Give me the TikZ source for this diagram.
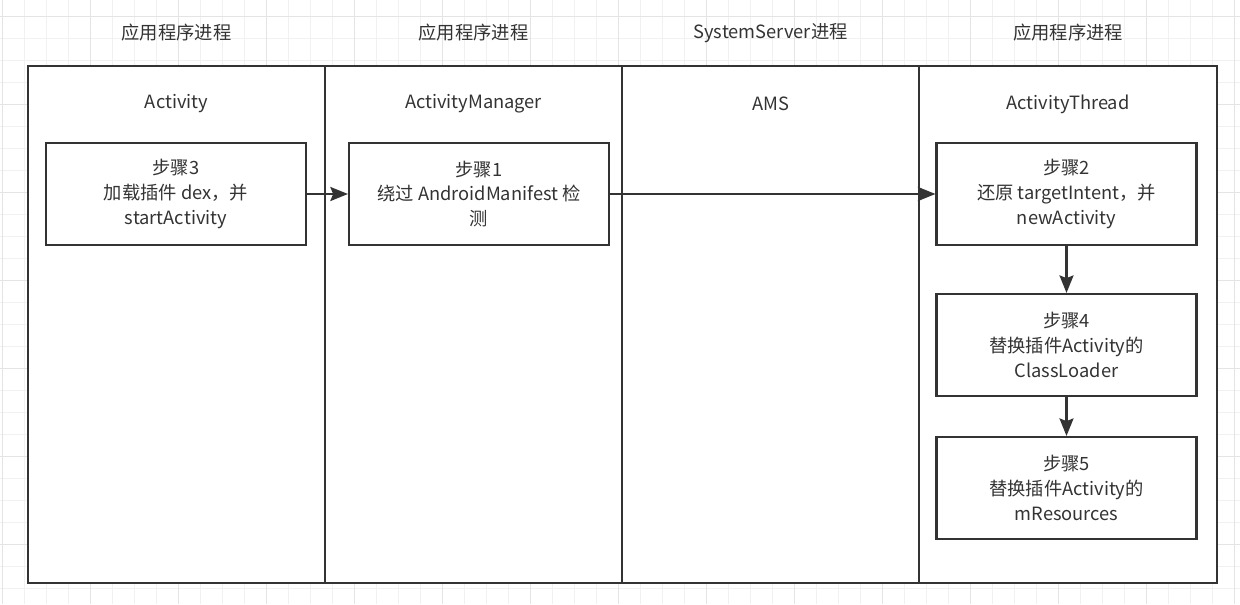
\documentclass[tikz,border=0pt]{standalone}
\usepackage{fontspec}
\setmainfont{Noto Sans CJK SC}
\usetikzlibrary{arrows.meta}
\definecolor{ink}{HTML}{333333}
\definecolor{gridminor}{HTML}{F1F1F1}
\definecolor{gridmajor}{HTML}{E4E4E4}
\tikzset{
  lane/.style={draw=ink, line width=1.5pt},
  stepbox/.style={draw=ink, line width=1.5pt, fill=white, align=center,
    minimum width=6.5cm, minimum height=2.55cm, inner sep=2pt},
  flow/.style={draw=ink, line width=1.5pt, -{Stealth[length=12.5pt, width=10pt, inset=2pt]}},
}
\begin{document}
\begin{tikzpicture}[x=0.025cm, y=-0.025cm, every node/.style={font=\fontsize{13}{17.5}\selectfont, text=ink}]
	\useasboundingbox (0,0) rectangle (1240,604);
	\fill[white] (0,0) rectangle (1240,604);
	% background grid
	\foreach \gx in {2.7,24.7,...,1240} {\draw[gridminor, line width=0.7pt] (\gx,0) -- (\gx,604);}
	\foreach \gy in {16.7,38.7,...,604} {\draw[gridminor, line width=0.7pt] (0,\gy) -- (1240,\gy);}
	\foreach \gx in {2.7,90.7,...,1240} {\draw[gridmajor, line width=0.7pt] (\gx,0) -- (\gx,604);}
	\foreach \gy in {16.7,104.7,...,604} {\draw[gridmajor, line width=0.7pt] (0,\gy) -- (1240,\gy);}
	% lanes
	\fill[white] (28,66) rectangle (1217,583);
	\foreach \lx in {325,622,919} {\draw[lane] (\lx,66) -- (\lx,583);}
	\draw[lane] (28,66) rectangle (1217,583);
	\foreach \cx/\proc/\ttl [count=\i] in {176.5/应用程序进程/Activity, 473.5/应用程序进程/ActivityManager, 770.5/SystemServer进程/AMS, 1068/应用程序进程/ActivityThread} {
		\node (proc\i) at (\cx,33) {\proc};
		\node (title\i) at (\cx,104) {\ttl};
	}
	\node[stepbox] (s3) at (176,194) {步骤3\\加载插件 dex，并\\startActivity};
	\node[stepbox] (s1) at (479,194) {步骤1\\绕过 AndroidManifest 检\\测};
	\node[stepbox] (s2) at (1066.5,194) {步骤2\\还原 targetIntent，并\\newActivity};
	\node[stepbox] (s4) at (1066.5,345) {步骤4\\替换插件Activity的\\ClassLoader};
	\node[stepbox] (s5) at (1066.5,488) {步骤5\\替换插件Activity的\\mResources};
	\draw[flow] (s3) -- (s1);
	\draw[flow] (s1) -- (s2);
	\draw[flow] (s2) -- (s4);
	\draw[flow] (s4) -- (s5);
\end{tikzpicture}
\end{document}
